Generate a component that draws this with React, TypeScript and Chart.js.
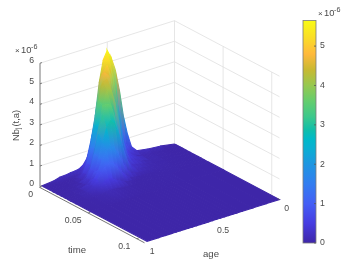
import React, { useEffect, useRef } from "react";
import { Chart, registerables } from "chart.js";

Chart.register(...registerables);

// ---- data (z in units of 1e-6) ----
const times = [0, 0.002, 0.004, 0.006, 0.008, 0.012, 0.016, 0.02, 0.024, 0.027, 0.03, 0.035, 0.05, 0.108];
const ages = [0, 0.1, 0.2, 0.28, 0.32, 0.35, 0.38, 0.41, 0.44, 0.47, 0.5, 0.53, 0.56, 0.59, 0.62, 0.65, 0.68, 0.71, 0.74, 0.77, 0.8, 0.85, 0.9, 0.985];

const zT000 = [0, 0.11, 0.17, 0.25, 0.53, 1.21, 2.14, 3.47, 4.51, 5.16, 5.58, 5.18, 4.13, 2.55, 1.48, 0.66, 0.38, 0.25, 0.22, 0.2, 0.17, 0.15, 0.06, 0];
const zT002 = [0, 0.06, 0.1, 0.16, 0.3, 0.5, 0.85, 1.72, 2.95, 4.25, 5.14, 5.22, 4.47, 3.21, 1.95, 0.99, 0.45, 0.2, 0.1, 0.08, 0.06, 0.04, 0.02, 0];
const zT004 = [0, 0.01, 0.05, 0.12, 0.2, 0.3, 0.53, 1.07, 2.05, 3.26, 4.42, 5.0, 4.7, 3.66, 2.44, 1.37, 0.65, 0.26, 0.1, 0.03, 0.02, 0.01, 0.01, 0];
const zT006 = [0, 0.01, 0.05, 0.11, 0.2, 0.3, 0.45, 0.67, 1.39, 2.46, 3.64, 4.53, 4.75, 4.18, 3.1, 1.93, 1.0, 0.45, 0.16, 0.05, 0.02, 0.01, 0.01, 0];
const zT008 = [0, 0.01, 0.05, 0.1, 0.2, 0.28, 0.38, 0.5, 0.9, 1.74, 2.83, 3.91, 4.5, 4.38, 3.59, 2.45, 1.42, 0.69, 0.29, 0.1, 0.03, 0.01, 0.01, 0];
const zT012 = [0, 0.01, 0.04, 0.08, 0.15, 0.2, 0.28, 0.35, 0.7, 1.4, 2.39, 3.41, 4.08, 4.1, 3.46, 2.46, 1.47, 0.74, 0.33, 0.12, 0.05, 0.02, 0.01, 0];
const zT016 = [0, 0.01, 0.03, 0.06, 0.1, 0.14, 0.2, 0.25, 0.3, 0.56, 1.13, 1.96, 2.86, 3.5, 3.6, 3.12, 2.27, 1.39, 0.71, 0.31, 0.11, 0.03, 0.01, 0];
const zT020 = [0, 0.01, 0.03, 0.05, 0.06, 0.09, 0.13, 0.18, 0.22, 0.37, 0.79, 1.42, 2.14, 2.72, 2.9, 2.59, 1.95, 1.24, 0.66, 0.3, 0.15, 0.04, 0.02, 0];
const zT024 = [0, 0.01, 0.02, 0.04, 0.04, 0.06, 0.08, 0.1, 0.12, 0.14, 0.21, 0.45, 0.83, 1.28, 1.65, 1.8, 1.65, 1.28, 0.83, 0.49, 0.26, 0.06, 0.02, 0];
const zT027 = [0, 0.01, 0.02, 0.03, 0.03, 0.03, 0.03, 0.03, 0.03, 0.05, 0.08, 0.14, 0.31, 0.54, 0.83, 1.06, 1.15, 1.04, 0.8, 0.52, 0.28, 0.09, 0.03, 0];
const zT030 = [0, 0.01, 0.02, 0.02, 0.02, 0.02, 0.02, 0.02, 0.02, 0.02, 0.03, 0.05, 0.08, 0.13, 0.23, 0.33, 0.45, 0.5, 0.43, 0.3, 0.17, 0.07, 0.03, 0];
const zT035 = [0, 0.01, 0.01, 0.02, 0.02, 0.02, 0.02, 0.02, 0.02, 0.02, 0.02, 0.02, 0.03, 0.04, 0.05, 0.07, 0.1, 0.12, 0.12, 0.08, 0.06, 0.03, 0.02, 0];
const zT050 = [0, 0.01, 0.01, 0.01, 0.01, 0.01, 0.01, 0.01, 0.01, 0.01, 0.01, 0.01, 0.01, 0.01, 0.01, 0.01, 0.01, 0.01, 0.01, 0.01, 0.01, 0.01, 0.01, 0];
const zT108 = [0, 0, 0, 0, 0, 0, 0, 0, 0, 0, 0, 0, 0, 0, 0, 0, 0, 0, 0, 0, 0, 0, 0, 0];
const surface = [zT000, zT002, zT004, zT006, zT008, zT012, zT016, zT020, zT024, zT027, zT030, zT035, zT050, zT108];

const zTicks = [0, 1, 2, 3, 4, 5, 6];
const timeTicks = [0, 0.05, 0.1];
const timeTickLabels = ["0", "0.05", "0.1"];
const ageTicks = [1, 0.5, 0];
const ageTickLabels = ["1", "0.5", "0"];
const colorbarMax = 5.65;

const cmapZ = [0, 0.5, 1, 1.5, 2, 2.4, 2.64, 2.87, 3.2, 3.6, 4, 4.4, 4.8, 5.2, 5.65];
const cmapRGB = [
  [62, 38, 168], [70, 60, 225], [68, 95, 245], [50, 125, 240], [30, 150, 225],
  [10, 175, 210], [0, 185, 200], [15, 190, 170], [60, 200, 140], [100, 205, 110],
  [150, 200, 80], [200, 185, 50], [255, 185, 60], [250, 220, 40], [249, 251, 21],
];

const tMax = 0.108;
const FONT = '"Liberation Sans", Arial, sans-serif';
const TEXT = "#4a4a4a";

function color(z: number) {
  let i = 0;
  while (i < cmapZ.length - 2 && z > cmapZ[i + 1]) i++;
  const f = Math.min(1, Math.max(0, (z - cmapZ[i]) / (cmapZ[i + 1] - cmapZ[i])));
  const c = cmapRGB[i].map((v, k) => Math.round(v + (cmapRGB[i + 1][k] - v) * f));
  return `rgb(${c[0]},${c[1]},${c[2]})`;
}

function project(t: number, a: number, z: number) {
  return {
    x: 174.5 - 134.5 * a + (t / tMax) * 105,
    y: 144 + 42.5 * a + (t / tMax) * 55.5 - 20.55 * z,
  };
}

function lineSet(points: { x: number; y: number }[], col: string, w: number) {
  return {
    data: points,
    showLine: true,
    fill: false,
    borderColor: col,
    borderWidth: w,
    pointRadius: 0,
    tension: 0,
  };
}

function buildDatasets() {
  const ds: any[] = [];
  const grid = "#e0e0e0";
  for (const z of zTicks) {
    ds.push(lineSet([project(0, 1, z), project(0, 0, z), project(tMax, 0, z)], grid, 0.8));
  }
  ds.push(lineSet([project(0, 0.5, 0), project(0, 0.5, 6)], grid, 0.8));
  ds.push(lineSet([project(0, 0, 0), project(0, 0, 6)], grid, 0.8));
  ds.push(lineSet([project(0.05, 0, 0), project(0.05, 0, 6)], grid, 0.8));
  ds.push(lineSet([project(0.1, 0, 0), project(0.1, 0, 6)], grid, 0.8));

  for (let r = 0; r < times.length - 1; r++) {
    for (let c = 0; c < ages.length - 1; c++) {
      const verts = [
        { t: times[r], a: ages[c], z: surface[r][c] },
        { t: times[r], a: ages[c + 1], z: surface[r][c + 1] },
        { t: times[r + 1], a: ages[c + 1], z: surface[r + 1][c + 1] },
        { t: times[r + 1], a: ages[c], z: surface[r + 1][c] },
      ];
      const pts = verts.map((v) => project(v.t, v.a, v.z));
      let top = 0;
      let bottom = 0;
      pts.forEach((p, i) => {
        if (p.y < pts[top].y) top = i;
        if (p.y > pts[bottom].y) bottom = i;
      });
      const paint = (ctx: any) => {
        const chart = ctx.chart;
        const yS = chart.scales.y;
        const y0 = yS ? yS.getPixelForValue(pts[top].y) : NaN;
        const y1 = yS ? yS.getPixelForValue(pts[bottom].y) : NaN;
        if (!Number.isFinite(y0) || !Number.isFinite(y1)) return color(verts[top].z);
        const g = chart.ctx.createLinearGradient(0, y0, 0, y1 + 0.01);
        g.addColorStop(0, color(verts[top].z));
        g.addColorStop(1, color(verts[bottom].z));
        return g;
      };
      ds.push({
        data: [...pts, pts[0]],
        showLine: true,
        fill: "shape",
        backgroundColor: paint,
        borderColor: paint,
        borderWidth: 1.1,
        pointRadius: 0,
        tension: 0,
      });
    }
  }

  const axis = "#666666";
  const off = { x: -0.5, y: 0.8 };
  const shifted = (p: { x: number; y: number }) => ({ x: p.x + off.x, y: p.y + off.y });
  ds.push(lineSet([project(0, 1, 0), project(0, 1, 6)], axis, 0.9));
  ds.push(lineSet([shifted(project(0, 1, 0)), shifted(project(tMax, 1, 0))], axis, 0.9));
  for (const z of zTicks) {
    ds.push(lineSet([project(0, 1, z), project(0, 0.985, z)], axis, 0.8));
  }
  for (const t of timeTicks) {
    ds.push(lineSet([shifted(project(t, 1, 0)), shifted(project(t, 0.985, 0))], axis, 0.8));
  }
  ds.push(lineSet([project(tMax, 0, 0), project(tMax - 0.002, 0, 0)], axis, 0.8));
  return ds.reverse();
}

function sup(ctx: CanvasRenderingContext2D, x: number, y: number) {
  ctx.textAlign = "left";
  ctx.textBaseline = "middle";
  ctx.font = `8px ${FONT}`;
  ctx.fillText("\u00d7", x, y + 0.5);
  ctx.font = `9.4px ${FONT}`;
  ctx.fillText("10", x + 6, y);
  ctx.font = `7.2px ${FONT}`;
  ctx.fillText("-6", x + 16, y - 3);
}

const textPlugin = {
  id: "labels3d",
  afterDraw(chart: any) {
    const ctx: CanvasRenderingContext2D = chart.ctx;
    ctx.save();
    ctx.fillStyle = TEXT;
    ctx.textBaseline = "middle";
    ctx.font = `8.7px ${FONT}`;
    ctx.textAlign = "right";
    zTicks.forEach((z) => {
      const p = project(0, 1, z);
      ctx.fillText(String(z), p.x - 6, p.y - 2.5);
    });
    timeTicks.forEach((t, i) => {
      const p = project(t, 1, 0);
      ctx.fillText(timeTickLabels[i], p.x - 7, p.y + 8.5);
    });
    ctx.textAlign = "left";
    ageTicks.forEach((a, i) => {
      const p = project(tMax, a, 0);
      ctx.fillText(ageTickLabels[i], p.x + 4.8, p.y + 9.5);
    });
    ctx.textAlign = "center";
    ctx.font = `9.6px ${FONT}`;
    ctx.fillText("time", 77, 250.5);
    ctx.fillText("age", 211, 254);
    sup(ctx, 15, 50);

    ctx.translate(16, 125.5);
    ctx.rotate(-Math.PI / 2);
    ctx.textAlign = "left";
    ctx.font = `9.4px ${FONT}`;
    const a = "Nb";
    const wa = ctx.measureText(a).width;
    const b = "(t,a)";
    const wb = ctx.measureText(b).width;
    const start = -(wa + 2.5 + wb) / 2;
    ctx.fillText(a, start, 0);
    ctx.font = `6.5px ${FONT}`;
    ctx.fillText("j", start + wa, 2.5);
    ctx.font = `9.4px ${FONT}`;
    ctx.fillText(b, start + wa + 2.5, 0);
    ctx.restore();
  },
};

const colorbarPlugin = {
  id: "colorbarDecor",
  afterDraw(chart: any) {
    const ctx: CanvasRenderingContext2D = chart.ctx;
    const { left, right, top, bottom } = chart.chartArea;
    const yS = chart.scales.y;
    ctx.save();
    ctx.strokeStyle = "#7a7a7a";
    ctx.lineWidth = 0.8;
    ctx.strokeRect(left, top, right - left, bottom - top);
    ctx.strokeStyle = "#555555";
    ctx.beginPath();
    yS.ticks.forEach((tk: any) => {
      const y = yS.getPixelForValue(tk.value);
      ctx.moveTo(right - 2, y);
      ctx.lineTo(right, y);
    });
    ctx.stroke();
    ctx.fillStyle = TEXT;
    sup(ctx, right + 2, 13);
    ctx.restore();
  },
};

export default function App() {
  const mainRef = useRef<HTMLCanvasElement>(null);
  const barRef = useRef<HTMLCanvasElement>(null);

  useEffect(() => {
    const main = new Chart(mainRef.current as HTMLCanvasElement, {
      type: "scatter",
      data: { datasets: buildDatasets() },
      plugins: [textPlugin],
      options: {
        animation: false,
        responsive: false,
        layout: { padding: 0 },
        plugins: { legend: { display: false }, tooltip: { enabled: false } },
        scales: {
          x: { type: "linear", min: 0, max: 363, display: false },
          y: { type: "linear", min: 0, max: 273, reverse: true, display: false },
        },
      },
    } as any);

    const bar = new Chart(barRef.current as HTMLCanvasElement, {
      type: "bar",
      data: {
        labels: ["z"],
        datasets: [
          {
            data: [[0, colorbarMax]],
            barPercentage: 1,
            categoryPercentage: 1,
            borderWidth: 0,
            backgroundColor: (ctx: any) => {
              const area = ctx.chart.chartArea;
              if (!area) return color(0);
              const g = ctx.chart.ctx.createLinearGradient(0, area.bottom, 0, area.top);
              cmapZ.forEach((z) => g.addColorStop(z / colorbarMax, color(z)));
              return g;
            },
          },
        ],
      },
      plugins: [colorbarPlugin],
      options: {
        animation: false,
        responsive: false,
        layout: { padding: { left: 3, top: 20.5, bottom: 30, right: 0 } },
        plugins: { legend: { display: false }, tooltip: { enabled: false } },
        scales: {
          x: { display: false },
          y: {
            position: "right",
            min: 0,
            max: colorbarMax,
            afterFit: (s: any) => {
              s.width = 47;
            },
            afterBuildTicks: (s: any) => {
              s.ticks = s.ticks.filter((tk: any) => Number.isInteger(tk.value));
            },
            border: { display: false },
            grid: { display: false, drawTicks: false },
            ticks: {
              stepSize: 1,
              padding: 4,
              color: TEXT,
              font: { family: FONT, size: 8.7 },
              callback: (v: any) => String(v),
            },
          },
        },
      },
    } as any);

    return () => {
      main.destroy();
      bar.destroy();
    };
  }, []);

  return (
    <div style={{ position: "absolute", left: 0, top: 0, width: 363, height: 273, background: "#fff" }}>
      <canvas ref={mainRef} width={363} height={273} style={{ position: "absolute", left: 0, top: 0, filter: "blur(0.3px)" }} />
      <canvas ref={barRef} width={63} height={273} style={{ position: "absolute", left: 300, top: 0, filter: "blur(0.3px)" }} />
    </div>
  );
}
